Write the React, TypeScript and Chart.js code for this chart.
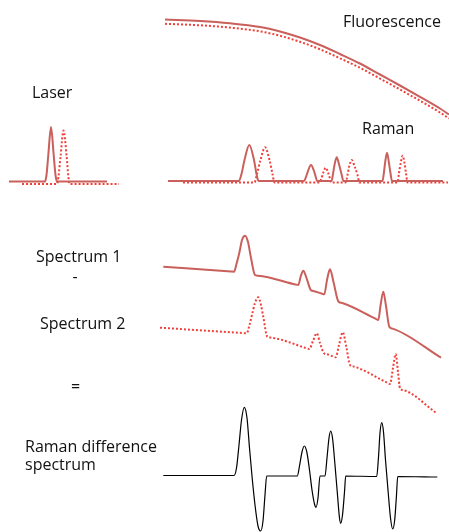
import React, { useEffect, useRef } from "react";
import { Chart, registerables } from "chart.js";

Chart.register(...registerables);

// Frame: x 0..449 (left→right), y 0..532 (top→bottom, reversed axis)

const fluoX = [165, 200, 230, 260, 280, 300, 320, 340, 360, 380, 400, 420, 440, 449];
const fluoSolidY = [19.5, 21, 23.3, 27, 31.5, 37.5, 45, 54, 63.5, 74.5, 85.5, 96.8, 108.5, 114.5];
const fluoDottedY = [23.8, 25.3, 27.6, 31.3, 35.8, 41.8, 49.3, 58.3, 67.8, 78.6, 89.5, 100.8, 112.5, 118.5];

const laserSolidX = [9, 45, 46.5, 48.3, 51, 53.7, 55.5, 57, 107];
const laserSolidY = [181.5, 181.5, 175, 155, 127, 155, 175, 181.5, 181.5];
const laserDottedX = [22, 57, 58.5, 60.5, 63.5, 66.7, 68.3, 69.5, 119];
const laserDottedY = [184, 184, 176, 157, 130.5, 157, 176, 184, 184];

const ramanSolidX = [168, 239, 241.5, 244.5, 249.3, 254, 256.5, 258.5, 304, 306, 308, 311, 314, 315.8, 317, 331.5, 333, 334.5, 336.7, 339.2, 341.5, 343.5, 382.5, 384, 385.2, 387, 388.8, 390.3, 392, 443];
const ramanSolidY = [181, 181, 174, 160, 145, 160, 174, 181, 181, 177, 171, 165, 171, 177, 181, 181, 174, 165, 157.3, 165, 174, 181, 181, 172, 162, 152.7, 162, 172, 181, 181];
const ramanDottedX = [183, 254.5, 257, 260.5, 265, 269.5, 272.5, 274.5, 319.5, 321.5, 323.3, 325.7, 328, 329.8, 331, 345.5, 347.5, 349.3, 351.7, 354.5, 357.5, 359.5, 397.5, 399, 400.7, 402.7, 404.5, 406, 407.5, 448];
const ramanDottedY = [182.5, 182.5, 174, 160, 147.3, 160, 174, 182.5, 182.5, 178, 172.5, 167.7, 172.5, 178, 182.5, 182.5, 175, 166, 160, 166, 175, 182.5, 182.5, 173, 163, 155.7, 163, 173, 182.5, 182.5];

const spec1X = [163.3, 231, 234, 236.5, 239.5, 242, 245, 248, 251, 255, 258, 295.5, 298.3, 300.8, 303.3, 306.5, 311, 314, 321.5, 324.3, 327, 330, 333.5, 338.3, 341.5, 375.5, 378.3, 380.6, 383.3, 386, 389.3, 392.5, 441];
const spec1Y = [266.7, 271.5, 271.7, 264, 252, 240, 235.7, 242, 258, 275, 275.7, 284.4, 285, 276, 270.7, 278, 290.3, 291.2, 293.5, 294.3, 280, 269.3, 282, 301.3, 302.8, 318.7, 320, 305, 291.7, 306, 326.7, 328.6, 357.7];

const spec2X = [160, 243.5, 246.7, 249.5, 252, 255, 258.3, 261, 263.3, 267.3, 270.5, 306.5, 309.3, 313, 316.7, 320, 324, 327, 333, 335.7, 339, 342.7, 346.5, 350, 353, 387, 390, 393, 395.7, 398, 400, 403, 436.7];
const spec2Y = [327.7, 333.1, 333.3, 325, 315, 303, 297.3, 305, 317, 336.7, 337.6, 348.2, 349, 341, 333.3, 343, 353.3, 354.3, 356.4, 357.3, 345, 332.3, 348, 365, 366.4, 382.6, 384, 368, 354, 372, 388.3, 390, 413.3];

const diffX = [163.3, 234, 236.5, 239, 241.5, 244.3, 247, 249.5, 252, 255, 258, 260.7, 263, 265, 266.7, 297.3, 299.5, 302, 304.3, 306.8, 309.5, 312, 314.5, 316, 318, 320, 325, 327, 329, 330.7, 332.5, 335, 337.5, 339.5, 340.7, 342.5, 344.5, 345.7, 376.7, 378.5, 380, 381.7, 383.5, 385.5, 388, 390.5, 392.7, 394.7, 396.5, 397.7, 437.3];
const diffY = [475.5, 475.5, 468, 445, 420, 407.3, 418, 448, 476, 505, 526, 531, 521, 495, 476, 476, 466, 452, 446, 452, 470, 490, 504, 507.3, 498, 476, 476, 458, 438, 431, 438, 465, 495, 518, 523.3, 515, 492, 476, 476.5, 457, 433, 422.7, 432, 460, 490, 518, 529, 520, 495, 476.5, 477];

const labelTexts = ["Fluorescence", "Laser", "Raman", "Spectrum 1", "-", "Spectrum 2", "=", "Raman difference", "spectrum"];
const labelX = [343, 32, 362, 36, 75, 40, 75.5, 25, 25];
const labelY = [27, 98, 134, 262, 282, 329, 392, 452, 470];
const labelAlign = ["left", "left", "left", "left", "center", "left", "center", "left", "left"];

const SOLID = "#c9605b";
const DOTTED = "#f0403a";

function zip(xs: number[], ys: number[]) {
  return xs.map((x, i) => ({ x, y: ys[i] }));
}

function solid(label: string, xs: number[], ys: number[]) {
  return {
    label,
    data: zip(xs, ys),
    showLine: true,
    borderColor: SOLID,
    borderWidth: 2,
    pointRadius: 0,
    cubicInterpolationMode: "monotone" as const,
    fill: false,
  };
}

function dotted(label: string, xs: number[], ys: number[]) {
  return {
    label,
    data: zip(xs, ys),
    showLine: true,
    borderColor: DOTTED,
    borderWidth: 2,
    borderDash: [2, 2],
    pointRadius: 0,
    cubicInterpolationMode: "monotone" as const,
    fill: false,
  };
}

const labelPlugin = {
  id: "labels",
  afterDraw(chart: any) {
    const { ctx, scales } = chart;
    ctx.save();
    ctx.font = '16px "Open Sans"';
    ctx.fillStyle = "#111";
    ctx.textBaseline = "alphabetic";
    labelTexts.forEach((t, i) => {
      ctx.textAlign = labelAlign[i] as CanvasTextAlign;
      ctx.fillText(t, scales.x.getPixelForValue(labelX[i]), scales.y.getPixelForValue(labelY[i]));
    });
    ctx.restore();
  },
};

export default function App() {
  const ref = useRef<HTMLCanvasElement>(null);
  useEffect(() => {
    if (!ref.current) return;
    const chart = new Chart(ref.current, {
      type: "scatter",
      data: {
        datasets: [
          solid("Fluorescence 1", fluoX, fluoSolidY),
          dotted("Fluorescence 2", fluoX, fluoDottedY),
          solid("Laser 1", laserSolidX, laserSolidY),
          dotted("Laser 2", laserDottedX, laserDottedY),
          solid("Raman 1", ramanSolidX, ramanSolidY),
          dotted("Raman 2", ramanDottedX, ramanDottedY),
          solid("Spectrum 1", spec1X, spec1Y),
          dotted("Spectrum 2", spec2X, spec2Y),
          {
            label: "Difference",
            data: zip(diffX, diffY),
            showLine: true,
            borderColor: "#000",
            borderWidth: 1.2,
            pointRadius: 0,
            cubicInterpolationMode: "monotone" as const,
            fill: false,
          },
        ] as any,
      },
      options: {
        animation: false,
        responsive: false,
        devicePixelRatio: 1,
        layout: { padding: 0 },
        plugins: { legend: { display: false }, tooltip: { enabled: false } },
        scales: {
          x: { type: "linear", min: 0, max: 449, display: false },
          y: { type: "linear", min: 0, max: 532, reverse: true, display: false },
        },
      },
      plugins: [labelPlugin],
    });
    return () => chart.destroy();
  }, []);
  return (
    <div style={{ position: "fixed", left: 0, top: 0, width: 449, height: 532, background: "#fff" }}>
      <canvas ref={ref} width={449} height={532} />
    </div>
  );
}
